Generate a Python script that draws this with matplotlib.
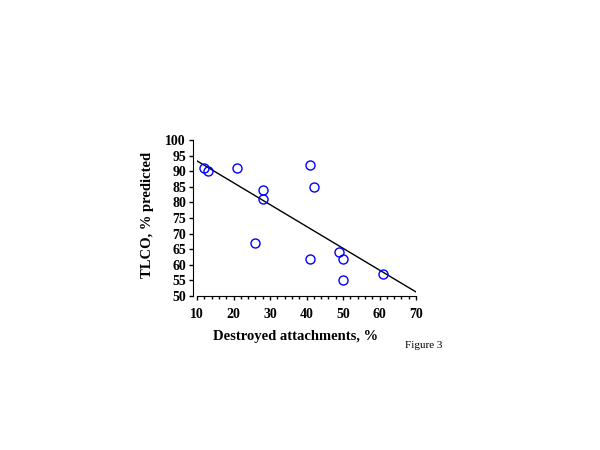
import matplotlib
matplotlib.use("Agg")
import matplotlib.pyplot as plt
from matplotlib.ticker import MultipleLocator

destroyed = [12, 13, 21, 28, 28, 26, 41, 42, 41, 49, 50, 50, 61]
tlco = [91, 90, 91, 84, 81, 67, 92, 85, 62, 64, 62, 55, 57]
fit_x = [10, 70]
fit_y = [93.3, 51.3]
x_ticks = [10, 20, 30, 40, 50, 60, 70]
y_ticks = [50, 55, 60, 65, 70, 75, 80, 85, 90, 95, 100]

plt.rcParams['font.family'] = ['Liberation Serif', 'DejaVu Serif']

fig = plt.figure(figsize=(6, 4.5), dpi=100)
ax = fig.add_axes([197/600, 1-296/450, 219/600, 156/450])

ax.plot(fit_x, fit_y, color='black', lw=1.0)
ax.plot(destroyed, tlco, 'o', mfc='none', mec='#0000ff', ms=6.5, mew=1.0)

ax.set_xlim(10, 70)
ax.set_ylim(50, 100)
ax.set_xticks(x_ticks)
ax.set_yticks(y_ticks)
ax.xaxis.set_minor_locator(MultipleLocator(2))
for s in ['top', 'right']:
    ax.spines[s].set_visible(False)
ax.spines['left'].set_position(('outward', 3))
ax.tick_params(axis='both', direction='out', length=3, width=1, labelsize=10)
ax.tick_params(axis='x', pad=6)
ax.tick_params(axis='y', pad=2)
ax.tick_params(axis='x', which='minor', length=2, width=1)
for lab in ax.get_xticklabels() + ax.get_yticklabels():
    lab.set_fontweight('bold')

ax.set_xlabel('Destroyed attachments, %', fontsize=10.5, fontweight='bold')
ax.xaxis.set_label_coords((296-197)/219, -(330-296)/156)
ax.set_ylabel('TLCO, % predicted', fontsize=10.5, fontweight='bold')
ax.yaxis.set_label_coords(-(197-154)/219, (296-215)/156)

fig.text(405/600, 1-345/450, 'Figure 3', fontsize=8, ha='left', va='center')

fig.savefig('out.png', dpi=100)
